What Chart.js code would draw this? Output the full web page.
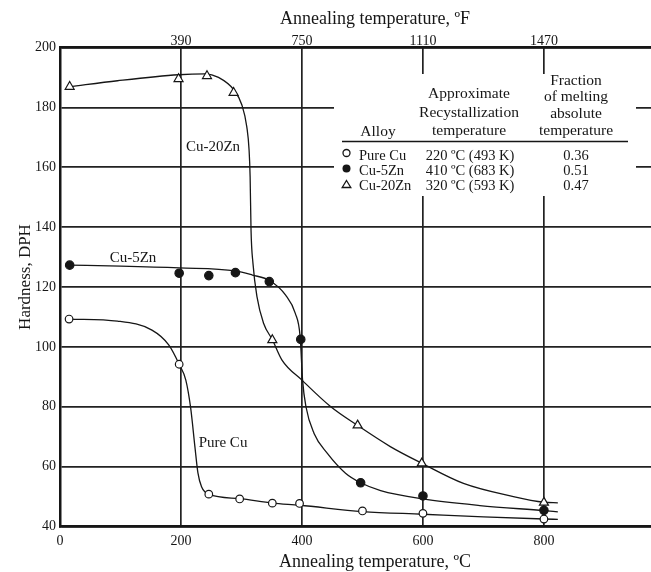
<!DOCTYPE html>
<html><head><meta charset="utf-8">
<script src="https://cdn.jsdelivr.net/npm/chart.js@4.4.1/dist/chart.umd.min.js"></script>
<style>html,body{margin:0;padding:0;background:#fff;overflow:hidden;} #wrap{width:651px;height:572px;position:relative;} canvas{display:block;}</style>
</head><body><div id="wrap"><canvas id="c"></canvas></div>
<script>
// ---- data ----
const xTicksC = [0, 200, 400, 600, 800];
const xTicksFPos = [200, 400, 600, 800];          // °C positions of the °F labels
const xTicksF = ['390', '750', '1110', '1470'];
const yTicks = [40, 60, 80, 100, 120, 140, 160, 180, 200];

const seriesNames = ['Pure Cu', 'Cu-5Zn', 'Cu-20Zn'];
const recrystTemps = ['220 ºC (493 K)', '410 ºC (683 K)', '320 ºC (593 K)'];
const meltFractions = ['0.36', '0.51', '0.47'];

const pureCuPts = [[15,109.3],[197,94.2],[246,50.8],[297,49.2],[351,47.8],[396,47.7],[500,45.2],[600,44.4],[800,42.5]];
const cu5ZnPts  = [[16,127.3],[197,124.6],[246,123.8],[290,124.8],[346,121.8],[398,102.5],[497,54.6],[600,50.2],[800,45.4]];
const cu20ZnPts = [[16,186.9],[196,189.5],[243,190.5],[287,184.9],[351,102.3],[492,73.8],[598,61.1],[800,48.0]];

const pureCuCurve = [[15,109.3],[95,108.6],[152,105.6],[180,100.6],[197,94.2],[208,88.9],[216,79.6],[223,66.7],[228,57.9],[234,53.3],[246,50.8],[297,49.3],[351,47.8],[396,47.1],[500,45.0],[600,44.1],[700,43.2],[800,42.5],[823,42.4]];
const cu5ZnCurve  = [[16,127.3],[100,127.0],[197,126.4],[290,125.4],[318,124.0],[347,122.1],[373,117.3],[389,111.2],[397,103.4],[401,88.9],[406.6,80],[420,71.1],[442,64.4],[472,57.8],[497,54.6],[530,52.0],[600,49.2],[694,47.0],[800,45.3],[823,44.9]];
const cu20ZnCurve = [[16,186.9],[95,188.9],[196,190.9],[240,191.2],[262,190.0],[287.6,185.8],[300.7,180.8],[308.8,173.5],[312.6,165.7],[314.3,156.8],[315.8,139],[319,127.9],[325.6,116.8],[336.5,107.9],[351.3,102.3],[367,95.6],[400,88.9],[447.7,80],[491.6,73.8],[546,66.7],[598.4,61.1],[667,54.4],[749.5,50.0],[800,48.1],[823,47.9]];

// ---- chart ----
const INK = '#161616';
const SERIF = '"Liberation Serif", "Times New Roman", serif';
const toXY = a => a.map(p => ({x: p[0], y: p[1]}));

function curveDs(arr) {
  return {type: 'scatter', data: toXY(arr), showLine: true, pointRadius: 0, borderColor: INK,
          borderWidth: 1.3, cubicInterpolationMode: 'monotone', fill: false, order: 2};
}
function markDs(arr, style, fillCol, r) {
  return {type: 'scatter', data: toXY(arr), showLine: false, pointStyle: style, pointRadius: r,
          pointBackgroundColor: fillCol, pointBorderColor: INK, pointBorderWidth: 1.2, order: 0};
}

const tablePlugin = {
  id: 'table',
  beforeDatasetsDraw(chart) {
    const ctx = chart.ctx;
    ctx.save();
    ctx.fillStyle = '#fff';
    ctx.fillRect(334, 74, 302, 122);
    ctx.restore();
  },
  afterDatasetsDraw(chart) {
    const ctx = chart.ctx;
    ctx.save();
    ctx.fillStyle = INK;
    ctx.textBaseline = 'middle';
    ctx.textAlign = 'center';
    // axis titles
    ctx.font = '18px ' + SERIF;
    ctx.fillText('Annealing temperature, ºF', 375, 19);
    ctx.fillText('Annealing temperature, ºC', 375, 562);
    ctx.save();
    ctx.translate(26, 277);
    ctx.rotate(-Math.PI / 2);
    ctx.font = '17px ' + SERIF;
    ctx.fillText('Hardness, DPH', 0, 0);
    ctx.restore();
    // curve labels
    ctx.font = '15px ' + SERIF;
    ctx.fillText('Cu-20Zn', 213, 147);
    ctx.fillText('Cu-5Zn', 133, 258);
    ctx.fillText('Pure Cu', 223, 443);
    // table header
    ctx.font = '15.5px ' + SERIF;
    ctx.fillText('Approximate', 469, 94);
    ctx.fillText('Recystallization', 469, 113);
    ctx.fillText('temperature', 469, 131);
    ctx.fillText('Fraction', 576, 81);
    ctx.fillText('of melting', 576, 97);
    ctx.fillText('absolute', 576, 114);
    ctx.fillText('temperature', 576, 131);
    ctx.fillText('Alloy', 378, 132);
    ctx.strokeStyle = INK; ctx.lineWidth = 1.5;
    ctx.beginPath(); ctx.moveTo(342, 141.5); ctx.lineTo(628, 141.5); ctx.stroke();
    // rows
    ctx.font = '14.5px ' + SERIF;
    const rowY = [156.5, 171, 186];
    for (let i = 0; i < 3; i++) {
      ctx.textAlign = 'left';
      ctx.fillText(seriesNames[i], 359, rowY[i]);
      ctx.textAlign = 'center';
      ctx.fillText(recrystTemps[i], 470, rowY[i]);
      ctx.fillText(meltFractions[i], 576, rowY[i]);
    }
    // legend markers
    ctx.lineWidth = 1.3;
    ctx.beginPath(); ctx.arc(346.5, 153, 3.5, 0, Math.PI * 2); ctx.fillStyle = '#fff'; ctx.fill(); ctx.stroke();
    ctx.beginPath(); ctx.arc(346.5, 168.5, 4, 0, Math.PI * 2); ctx.fillStyle = INK; ctx.fill();
    ctx.beginPath(); ctx.moveTo(346.5, 180.5); ctx.lineTo(350.8, 187.5); ctx.lineTo(342.2, 187.5); ctx.closePath(); ctx.stroke();
    ctx.restore();
  }
};

const tickFont = {family: SERIF, size: 14};
const GRID = {color: '#222', lineWidth: 1.7, drawTicks: false};

new Chart(document.getElementById('c'), {
  type: 'scatter',
  data: {
    datasets: [
      markDs(pureCuPts, 'circle', '#fff', 3.8),
      markDs(cu5ZnPts, 'circle', INK, 4.2),
      markDs(cu20ZnPts, 'triangle', '#fff', 5.2),
      curveDs(pureCuCurve),
      curveDs(cu5ZnCurve),
      curveDs(cu20ZnCurve)
    ]
  },
  options: {
    responsive: true, maintainAspectRatio: false, animation: false,
    layout: {padding: 0, autoPadding: false},
    plugins: {legend: {display: false}, tooltip: {enabled: false}},
    scales: {
      x: {
        type: 'linear', position: 'bottom', min: 0, max: 977,
        afterBuildTicks: s => { s.ticks = xTicksC.map(v => ({value: v})); },
        ticks: {font: tickFont, color: INK, padding: 6, maxRotation: 0, autoSkip: false, callback: v => String(v)},
        grid: GRID,
        border: {display: true, color: INK, width: 2.5},
        title: {display: false},
        afterFit: s => { s.height = 45.5; s.paddingLeft = 0; s.paddingRight = 0; }
      },
      x2: {
        type: 'linear', position: 'top', min: 0, max: 977,
        afterBuildTicks: s => { s.ticks = xTicksFPos.map(v => ({value: v})); },
        ticks: {font: tickFont, color: INK, padding: -2, maxRotation: 0, autoSkip: false,
                callback: v => xTicksF[xTicksFPos.indexOf(v)]},
        grid: {display: false, drawTicks: false},
        border: {display: true, color: INK, width: 2.5},
        title: {display: false},
        afterFit: s => { s.height = 47.5; s.paddingLeft = 0; s.paddingRight = 0; }
      },
      y: {
        type: 'linear', position: 'left', min: 40, max: 200,
        afterBuildTicks: s => { s.ticks = yTicks.map(v => ({value: v})); },
        ticks: {font: tickFont, color: INK, padding: 4},
        grid: GRID,
        border: {display: true, color: INK, width: 2.5},
        title: {display: false},
        afterFit: s => { s.width = 60; }
      }
    }
  },
  plugins: [tablePlugin]
});
</script>
</body></html>
